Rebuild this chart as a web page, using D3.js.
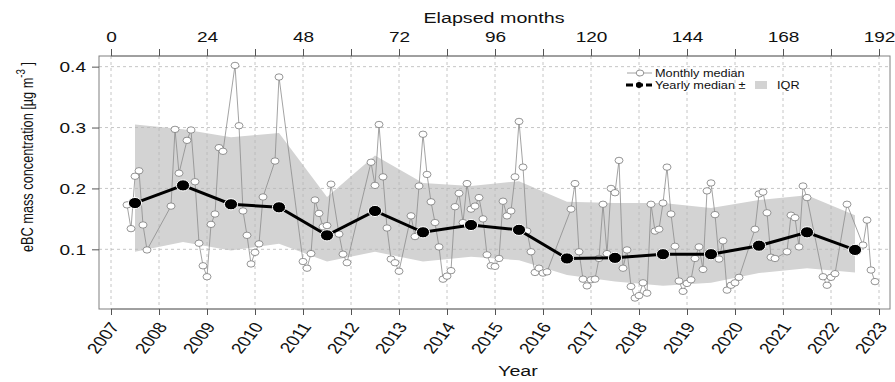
<!DOCTYPE html>
<html>
<head>
<meta charset="utf-8">
<script src="https://cdn.jsdelivr.net/npm/d3@7"></script>
<style>
  body { margin: 0; background: #fff; }
  svg { display: block; }
  text { font-family: "Liberation Sans", Arial, Helvetica, sans-serif; fill: #111; }
</style>
</head>
<body>
<svg id="chart" width="895" height="382"></svg>
<script>
// Yearly statistics (plotted at mid-year)
const years = [2007, 2008, 2009, 2010, 2011, 2012, 2013, 2014, 2015, 2016, 2017, 2018, 2019, 2020, 2021, 2022];
const yearlyMedian = [0.176, 0.205, 0.174, 0.169, 0.123, 0.163, 0.128, 0.140, 0.132, 0.085, 0.086, 0.092, 0.092, 0.106, 0.128, 0.099];
const iqrUpper = [0.305, 0.297, 0.284, 0.291, 0.186, 0.254, 0.209, 0.204, 0.212, 0.178, 0.176, 0.176, 0.168, 0.181, 0.189, 0.156];
const iqrLower = [0.096, 0.112, 0.098, 0.109, 0.080, 0.096, 0.080, 0.088, 0.082, 0.058, 0.047, 0.040, 0.045, 0.061, 0.069, 0.062];

// Monthly medians: elapsed months since January 2007 and concentration (µg m-3)
const monthIndex = [
  4, 5, 6, 7, 8, 9, 15, 16, 17, 19, 20, 21, 22, 23, 24, 25, 26, 27, 28, 31, 32, 33, 34, 35, 36, 37, 38, 41, 42,
  48, 49, 50, 51, 52, 53, 54, 55, 57, 58, 59, 65, 66, 67, 68, 69, 70, 71, 72, 75, 76, 77, 78, 79, 80, 81, 82, 83,
  84, 85, 86, 87, 88, 89, 90, 91, 92, 93, 94, 95, 96, 97, 98, 99, 100, 101, 102, 103, 104, 105, 106, 107, 108, 109,
  115, 116, 117, 118, 119, 120, 121, 122, 123, 124, 125, 126, 127, 128, 129, 130, 131, 132, 133, 134, 135, 136,
  137, 138, 139, 140, 141, 142, 143, 144, 145, 146, 147, 148, 149, 150, 151, 152, 153, 154, 155, 156, 157,
  161, 162, 163, 164, 165, 166, 169, 170, 171, 172, 173, 174, 178, 179, 180, 181, 184, 188, 189, 190, 191
];
const monthlyMedian = [
  0.173, 0.134, 0.220, 0.229, 0.140, 0.099, 0.171, 0.297, 0.225, 0.279, 0.296, 0.211, 0.110, 0.073, 0.055, 0.141, 0.158, 0.267, 0.261, 0.402, 0.303, 0.163, 0.123, 0.076, 0.095, 0.109, 0.186, 0.245, 0.383,
  0.080, 0.069, 0.093, 0.181, 0.159, 0.137, 0.139, 0.207, 0.125, 0.092, 0.078, 0.243, 0.205, 0.305, 0.219, 0.135, 0.084, 0.078, 0.064, 0.155, 0.121, 0.204, 0.289, 0.223, 0.178, 0.144, 0.104, 0.051,
  0.056, 0.065, 0.170, 0.192, 0.144, 0.208, 0.166, 0.171, 0.185, 0.150, 0.091, 0.073, 0.072, 0.085, 0.179, 0.155, 0.163, 0.219, 0.310, 0.235, 0.130, 0.096, 0.062, 0.069, 0.061, 0.063,
  0.166, 0.208, 0.096, 0.051, 0.040, 0.050, 0.051, 0.085, 0.174, 0.093, 0.200, 0.193, 0.246, 0.069, 0.099, 0.039, 0.020, 0.024, 0.045, 0.028, 0.174, 0.130,
  0.133, 0.176, 0.235, 0.158, 0.105, 0.048, 0.031, 0.044, 0.050, 0.085, 0.104, 0.067, 0.196, 0.209, 0.157, 0.084, 0.114, 0.033, 0.041, 0.045, 0.054,
  0.133, 0.191, 0.194, 0.160, 0.087, 0.085, 0.096, 0.156, 0.152, 0.104, 0.204, 0.185, 0.055, 0.041, 0.054, 0.060, 0.174, 0.107, 0.148, 0.066, 0.047
];

// Axis tick definitions
const yTicks = [0.1, 0.2, 0.3, 0.4];
const yearTicks = d3.range(2007, 2024);
const monthMinorTicks = d3.range(0, 193, 12);

const SX = 1.27; // horizontal text stretch
const svg = d3.select("#chart");
const plotLeft = 99, plotRight = 890, plotTop = 56, plotBottom = 309;

const x = d3.scaleLinear().domain([-3, 194.75]).range([plotLeft, plotRight]);
const y = d3.scaleLinear().domain([0.002, 0.4175]).range([plotBottom, plotTop]);
const yearToMonth = yr => (yr - 2007) * 12;

const yearly = years.map((yr, i) => ({ m: yearToMonth(yr) + 6, med: yearlyMedian[i], lo: iqrLower[i], hi: iqrUpper[i] }));
const monthly = monthIndex.map((m, i) => ({ m, v: monthlyMedian[i] }));

// IQR band
svg.append("path")
  .datum(yearly)
  .attr("fill", "#d3d3d3")
  .attr("d", d3.area().x(d => x(d.m)).y0(d => y(d.lo)).y1(d => y(d.hi)));

// Dashed grid
const grid = svg.append("g").attr("stroke", "#b8b8b8").attr("stroke-width", 0.8).attr("stroke-dasharray", "3,3");
grid.selectAll("line.h").data(yTicks).join("line").attr("class", "h")
  .attr("x1", plotLeft).attr("x2", plotRight).attr("y1", d => y(d)).attr("y2", d => y(d));
grid.selectAll("line.v").data(monthMinorTicks).join("line").attr("class", "v")
  .attr("x1", d => x(d)).attr("x2", d => x(d)).attr("y1", plotTop).attr("y2", plotBottom);

// Monthly median line and markers
svg.append("path")
  .datum(monthly)
  .attr("fill", "none").attr("stroke", "#8c8c8c").attr("stroke-width", 0.8)
  .attr("d", d3.line().x(d => x(d.m)).y(d => y(d.v)));
svg.append("g").selectAll("ellipse").data(monthly).join("ellipse")
  .attr("cx", d => x(d.m)).attr("cy", d => y(d.v))
  .attr("rx", 4).attr("ry", 3.2)
  .attr("fill", "#fff").attr("stroke", "#7a7a7a").attr("stroke-width", 0.8);

// Yearly median line and markers
svg.append("path")
  .datum(yearly)
  .attr("fill", "none").attr("stroke", "#000").attr("stroke-width", 3)
  .attr("d", d3.line().x(d => x(d.m)).y(d => y(d.med)));
svg.append("g").selectAll("ellipse").data(yearly).join("ellipse")
  .attr("cx", d => x(d.m)).attr("cy", d => y(d.med))
  .attr("rx", 6.6).attr("ry", 5.6)
  .attr("fill", "#000").attr("stroke", "#fff").attr("stroke-width", 1);

// Plot frame
svg.append("rect")
  .attr("x", plotLeft).attr("y", plotTop).attr("width", plotRight - plotLeft).attr("height", plotBottom - plotTop)
  .attr("fill", "none").attr("stroke", "#808080").attr("stroke-width", 1);

function styleAxis(g) {
  g.select(".domain").attr("stroke", "#808080");
  g.selectAll(".tick line").attr("stroke", "#555");
}

// Left axis
const gy = svg.append("g").attr("transform", `translate(${plotLeft},0)`)
  .call(d3.axisLeft(y).tickValues(yTicks).tickSize(7).tickFormat(d3.format(".1f")))
  .call(styleAxis);
gy.select(".domain").remove();
gy.selectAll(".tick text")
  .attr("x", null).attr("dy", "0.35em")
  .attr("transform", `translate(-13,0) scale(${SX},1)`)
  .attr("font-size", 15).attr("fill", "#111");

// Bottom axis (years)
const gx = svg.append("g").attr("transform", `translate(0,${plotBottom})`)
  .call(d3.axisBottom(x).tickValues(yearTicks.map(yearToMonth)).tickSize(6)
    .tickFormat(m => String(2007 + m / 12)))
  .call(styleAxis);
gx.select(".domain").attr("d", `M${x(0)},0H${x(192)}`);
gx.selectAll(".tick text")
  .attr("y", null).attr("dy", "0.35em")
  .attr("text-anchor", "end")
  .attr("transform", `translate(3,15) scale(${SX},1) rotate(-57)`)
  .attr("font-size", 15).attr("fill", "#111");

// Top axis (elapsed months)
const gt = svg.append("g").attr("transform", `translate(0,${plotTop})`)
  .call(d3.axisTop(x).tickValues(monthMinorTicks).tickSize(7)
    .tickFormat(m => (m % 24 === 0 ? String(m) : "")))
  .call(styleAxis);
gt.select(".domain").attr("d", `M${x(0)},0H${x(192)}`);
gt.selectAll(".tick text")
  .attr("y", null).attr("dy", null)
  .attr("transform", `translate(0,-14) scale(${SX},1)`)
  .attr("font-size", 15).attr("fill", "#111");

// Axis titles
svg.append("text")
  .attr("transform", `translate(494,23) scale(${SX},1)`)
  .attr("text-anchor", "middle").attr("font-size", 15.5)
  .text("Elapsed months");
svg.append("text")
  .attr("transform", `translate(518,376) scale(${SX},1)`)
  .attr("text-anchor", "middle").attr("font-size", 15.5)
  .text("Year");
const yl = svg.append("text")
  .attr("transform", `translate(33,157) scale(${SX},1) rotate(-90)`)
  .attr("x", -95)
  .attr("textLength", 190).attr("lengthAdjust", "spacingAndGlyphs")
  .attr("font-size", 13.2);
yl.append("tspan").text("eBC mass concentration [µg m");
yl.append("tspan").attr("dy", -6).attr("font-size", 10).text("-3");
yl.append("tspan").attr("dy", 6).text(" ]");

// Legend
const lg = svg.append("g").attr("font-size", 10);
lg.append("line").attr("x1", 627).attr("x2", 652).attr("y1", 73).attr("y2", 73)
  .attr("stroke", "#8c8c8c").attr("stroke-width", 0.8);
lg.append("ellipse").attr("cx", 640).attr("cy", 73).attr("rx", 3.8).attr("ry", 3)
  .attr("fill", "#fff").attr("stroke", "#7a7a7a").attr("stroke-width", 0.8);
lg.append("text").attr("transform", `translate(655,73) scale(${SX},1)`).attr("dy", "0.35em").text("Monthly median");
lg.append("line").attr("x1", 626).attr("x2", 652).attr("y1", 85).attr("y2", 85)
  .attr("stroke", "#000").attr("stroke-width", 3).attr("stroke-dasharray", "7,3");
lg.append("circle").attr("cx", 639).attr("cy", 85).attr("r", 3).attr("fill", "#000");
lg.append("text").attr("transform", `translate(655,85) scale(${SX},1)`).attr("dy", "0.35em").text("Yearly median ±");
lg.append("rect").attr("x", 755).attr("y", 81).attr("width", 12).attr("height", 8).attr("fill", "#d3d3d3");
lg.append("text").attr("transform", `translate(777,85) scale(${SX},1)`).attr("dy", "0.35em").text("IQR");
</script>
</body>
</html>
